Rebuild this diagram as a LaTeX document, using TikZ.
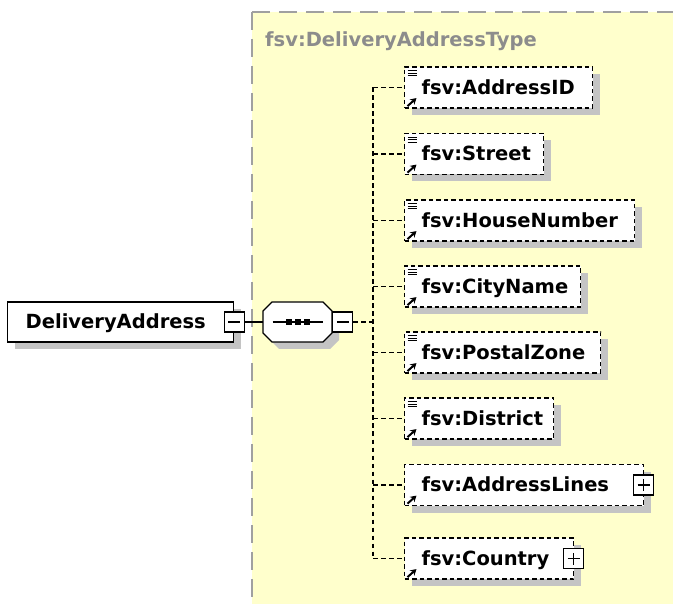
\documentclass[tikz,border=0pt]{standalone}
\usepackage{fontspec}
\setmainfont{DejaVu Sans}
\usetikzlibrary{shadows,arrows.meta}
\definecolor{bgyellow}{HTML}{FFFFCC}
\definecolor{shadowgray}{HTML}{C4C4C4}
\definecolor{bordergray}{HTML}{A0A0A0}
\definecolor{titlegray}{HTML}{8C8C8C}
\begin{document}
\begin{tikzpicture}[x=1pt,y=-1pt,
  every node/.style={font=\fontsize{19.5}{21}\selectfont\bfseries},
  shadowed/.style={general shadow={fill=shadowgray, shadow xshift=7pt, shadow yshift=-7pt}},
  elem/.style={draw, fill=white, line width=1.2pt, dash pattern=on 4.5pt off 3pt, shadowed,
    inner sep=0pt, minimum height=41pt, text height=14pt, text depth=0pt, anchor=west},
  mainbox/.style={draw, fill=white, line width=1.4pt, shadowed,
    inner sep=0pt, minimum height=40pt, text height=14pt, text depth=0pt, anchor=west},
  pmbox/.style={draw, fill=white, line width=1.2pt, solid, minimum size=20pt, inner sep=0pt},
  conn/.style={line width=1.2pt, dash pattern=on 4.5pt off 3.5pt},
  gborder/.style={bordergray, line width=1.5pt, dash pattern=on 18pt off 9pt},
  icon/.style={line width=1pt}
]
\useasboundingbox (0,0) rectangle (673,604);
% type region
\fill[bgyellow] (252,12) rectangle (673,604);
\draw[gborder] (252,12) -- (673,12);
\draw[gborder] (252,12) -- (252,604);
\node[anchor=base west, inner sep=0pt, text=titlegray] (title) at (265,47) {fsv:DeliveryAddressType};

% main element
\node[mainbox] (da) at (7,322) {\makebox[226pt][l]{\hspace*{18pt}DeliveryAddress}};
\node[pmbox] (dam) at (da.east) {};
\draw[line width=1.2pt] ([xshift=-6pt]dam.center) -- ([xshift=6pt]dam.center);

% sequence compositor
\node[inner sep=0pt, minimum width=69pt, minimum height=40pt] (seq) at (297.5,322) {};
\fill[shadowgray, shift={(7,7)}] (263,311) -- (272,302) -- (323,302) -- (332,311) -- (332,333) -- (323,342) -- (272,342) -- (263,333) -- cycle;
\filldraw[fill=white, draw=black, line width=1.4pt] (263,311) -- (272,302) -- (323,302) -- (332,311) -- (332,333) -- (323,342) -- (272,342) -- (263,333) -- cycle;
\draw[line width=1.2pt] ([xshift=-25pt]seq.center) -- ([xshift=25pt]seq.center);
\foreach \dx in {-9,0,9}{
  \fill[shift={(seq.center)}] (\dx-3,-3) rectangle (\dx+3,3);
}
\node[pmbox, anchor=west] (seqm) at (seq.east) {};
\draw[line width=1.2pt] ([xshift=-6pt]seqm.center) -- ([xshift=6pt]seqm.center);
\draw[line width=1.2pt] (dam.east) -- (seq.west);

% child elements
\foreach \n/\t/\y/\r in {
  e1/fsv:AddressID/87.5/592,
  e2/fsv:Street/154/543,
  e3/fsv:HouseNumber/220.5/634,
  e4/fsv:CityName/286.5/580,
  e5/fsv:PostalZone/352.5/600,
  e6/fsv:District/418.5/553,
  e7/fsv:AddressLines/485/643,
  e8/fsv:Country/558.5/573}{
  \pgfmathsetmacro\w{\r-404}
  \node[elem] (\n) at (404,\y) {\makebox[\w pt][l]{\hspace*{17pt}\t}};
}
% simple-content icons
\foreach \n in {e1,e2,e3,e4,e5,e6}{
  \foreach \dy in {4.5,7,9.5}{
    \draw[icon] ([shift={(3.5,\dy)}]\n.north west) -- ++(9,0);
  }
}
% reference arrows
\foreach \n in {e1,e2,e3,e4,e5,e6,e7,e8}{
  \draw[line width=2pt, -{Stealth[length=6pt,width=7pt]}] ([shift={(3.5,-2.5)}]\n.south west) -- ++(9,-8);
}
% expand boxes
\node[pmbox] (e7p) at ([xshift=-0.5pt]e7.east) {};
\node[pmbox] (e8p) at ([xshift=-0.5pt]e8.east) {};
\foreach \p in {e7p,e8p}{
  \draw[line width=1.2pt] ([xshift=-6pt]\p.center) -- ([xshift=6pt]\p.center);
  \draw[line width=1.2pt] ([yshift=-6pt]\p.center) -- ([yshift=6pt]\p.center);
}

% connectors
\coordinate (trunk) at (373,322);
\draw[conn] (seqm.east) -- (trunk);
\draw[conn] (e1.west -| trunk) -- (e8.west -| trunk);
\foreach \n in {e1,e2,e3,e4,e5,e6,e7,e8}{
  \draw[conn] (\n.west -| trunk) -- (\n.west);
}
\end{tikzpicture}
\end{document}
